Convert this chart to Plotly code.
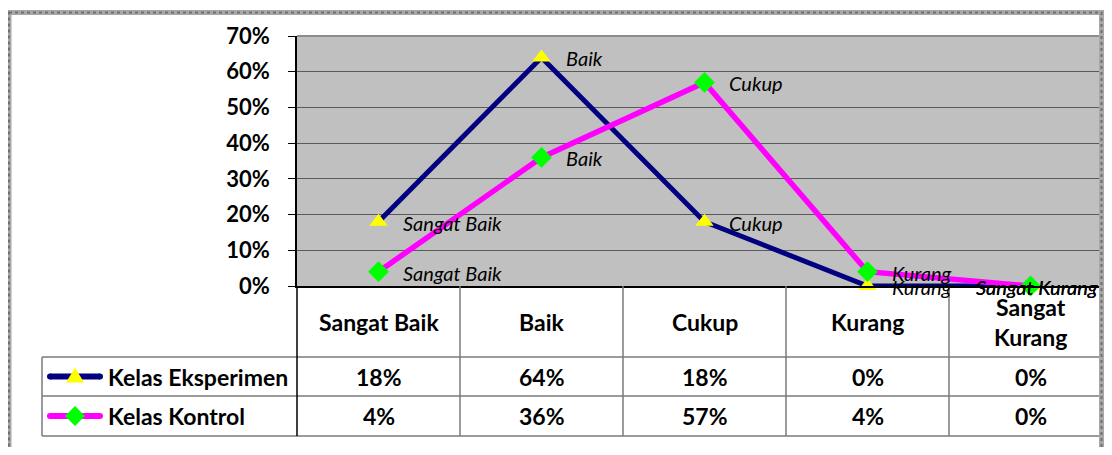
import plotly.graph_objects as go

# ---------------- data ----------------
categories = ["Sangat Baik", "Baik", "Cukup", "Kurang", "Sangat Kurang"]
header_labels = ["Sangat Baik", "Baik", "Cukup", "Kurang", "Sangat<br>Kurang"]
series_names = ["Kelas Eksperimen", "Kelas Kontrol"]
eksperimen = [0.18, 0.64, 0.18, 0.00, 0.00]
kontrol = [0.04, 0.36, 0.57, 0.04, 0.00]
y_ticks = [0.0, 0.1, 0.2, 0.3, 0.4, 0.5, 0.6, 0.7]

# ---------------- geometry (page pixels; the page body adds an 8px margin) ----------------
OFF = 8
VIEW_W, VIEW_H = 1112, 455
COL_W = 163.0                       # pixel width of one category column
PLOT_L, PLOT_T, PLOT_B = 297, 36, 286
PLOT_R = VIEW_W - OFF               # keep the figure inside the window
W, H = VIEW_W - 2 * OFF, VIEW_H - 2 * OFF
L, T = PLOT_L - OFF, PLOT_T - OFF
R = W - (PLOT_R - OFF)
B = H - (PLOT_B - OFF)
PW, PH = PLOT_R - PLOT_L, PLOT_B - PLOT_T
X_MAX = -0.5 + PW / COL_W


def px(x):
    return (x - PLOT_L) / PW


def py(y):
    return (PLOT_B - y) / PH


FONT = "Lato, 'Open Sans', sans-serif"
NAVY = "#000080"
MAGENTA = "#FF00FF"
YELLOW = "#FFFF00"
GREEN = "#00FF00"
TABLE_LINE = "#7a7a7a"

fig = go.Figure()

fig.add_trace(go.Scatter(
    x=categories, y=eksperimen, name=series_names[0], mode="lines+markers",
    line=dict(color=NAVY, width=5),
    marker=dict(symbol="triangle-up", size=16, color=YELLOW, line=dict(width=0)),
    cliponaxis=False, showlegend=False,
))
fig.add_trace(go.Scatter(
    x=categories, y=kontrol, name=series_names[1], mode="lines+markers",
    line=dict(color=MAGENTA, width=5.5),
    marker=dict(symbol="diamond", size=16, color=GREEN, line=dict(width=0)),
    cliponaxis=False, showlegend=False,
))

annotations = []
# point labels
for series in (eksperimen, kontrol):
    for i, (c, v) in enumerate(zip(categories, series)):
        last = i == len(categories) - 1
        annotations.append(dict(
            x=c, y=v, xref="x", yref="y", text=c, showarrow=False,
            xanchor="center" if last else "left",
            xshift=6 if last else 22,
            yshift=-1,
            font=dict(family=FONT, size=20, color="#000000", style="italic"),
        ))

# table header row
for c, lab in zip(categories, header_labels):
    annotations.append(dict(
        x=c, y=py(321.5), xref="x", yref="paper", text=lab, showarrow=False,
        xanchor="center", yanchor="middle",
        font=dict(family=FONT, size=23, color="#000000", weight="bold"),
    ))

# table value rows
row_centers = [376.5, 416]
for name, series, yc in zip(series_names, (eksperimen, kontrol), row_centers):
    for c, v in zip(categories, series):
        annotations.append(dict(
            x=c, y=py(yc), xref="x", yref="paper", text=f"{round(v * 100)}%",
            showarrow=False, xanchor="center", yanchor="middle",
            font=dict(family=FONT, size=23, color="#000000", weight="bold"),
        ))
    # legend text
    annotations.append(dict(
        x=px(106), y=py(yc), xref="paper", yref="paper",
        text=name, showarrow=False,
        xanchor="left", yanchor="middle",
        font=dict(family=FONT, size=23, color="#000000", weight="bold"),
    ))

shapes = []
# top border of plot area
shapes.append(dict(type="line", xref="paper", yref="paper",
                   x0=0, x1=1, y0=1, y1=1,
                   line=dict(color="#8c8c8c", width=2)))

# table horizontal lines
for yline in (357, 396, 436):
    shapes.append(dict(type="line", xref="paper", yref="paper",
                       x0=px(42), x1=1, y0=py(yline), y1=py(yline),
                       line=dict(color=TABLE_LINE, width=1.5)))
# table vertical lines (column boundaries)
bounds = [i - 0.5 for i in range(len(categories) + 1)]
for b in bounds[1:-1]:
    shapes.append(dict(type="line", xref="x", yref="paper",
                       x0=b, x1=b, y0=0, y1=py(436),
                       line=dict(color=TABLE_LINE, width=1.5)))
shapes.append(dict(type="line", xref="paper", yref="paper",
                   x0=0, x1=0, y0=0, y1=py(436),
                   line=dict(color="#000000", width=1.5)))
shapes.append(dict(type="line", xref="paper", yref="paper",
                   x0=px(42), x1=px(42), y0=py(357), y1=py(436),
                   line=dict(color=TABLE_LINE, width=1.5)))

# frame around chart (drawn above so its right edge shows over the plot area)
for col, wd, dash in (("#a8a8a8", 5, "solid"), ("#707070", 2, "dot")):
    shapes.append(dict(type="rect", xref="paper", yref="paper",
                       x0=px(9), x1=px(PLOT_R - 2.5), y0=py(12.5), y1=py(475),
                       line=dict(color=col, width=wd, dash=dash), layer="above"))

# legend keys
keys = [(NAVY, YELLOW, "M -9 -6 L 9 -6 L 0 9 Z"),
        (MAGENTA, GREEN, "M -10 0 L 0 10 L 10 0 L 0 -10 Z")]
for (lc, mc, path), yc in zip(keys, row_centers):
    shapes.append(dict(type="line", xref="paper", yref="paper",
                       x0=px(50), x1=px(100), y0=py(yc), y1=py(yc),
                       line=dict(color=lc, width=6)))
    for xe in (50, 100):
        shapes.append(dict(type="circle", xref="paper", yref="paper",
                           xsizemode="pixel", ysizemode="pixel",
                           xanchor=px(xe), yanchor=py(yc),
                           x0=-3, x1=3, y0=-3, y1=3,
                           fillcolor=lc, line=dict(width=0)))
    shapes.append(dict(type="path", xref="paper", yref="paper",
                       xsizemode="pixel", ysizemode="pixel",
                       xanchor=px(75), yanchor=py(yc), path=path,
                       fillcolor=mc, line=dict(width=0)))

fig.update_layout(
    width=W, height=H,
    margin=dict(l=L, r=R, t=T, b=B, pad=0),
    paper_bgcolor="#FFFFFF",
    plot_bgcolor="#C0C0C0",
    font=dict(family=FONT, color="#000000"),
    annotations=annotations,
    shapes=shapes,
    showlegend=False,
    xaxis=dict(
        type="category", categoryorder="array", categoryarray=categories,
        range=[-0.5, X_MAX],
        showticklabels=False, ticks="", showgrid=False, zeroline=False,
        showline=True, linecolor="#000000", linewidth=1.5,
    ),
    yaxis=dict(
        range=[0, 0.7], tickvals=y_ticks, tickformat=".0%",
        showgrid=True, gridcolor="#5a5a5a", gridwidth=1,
        zeroline=False, showline=True, linecolor="#000000", linewidth=1.5,
        ticks="outside", ticklen=7, tickcolor="#000000", tickwidth=1,
        ticklabelstandoff=14,
        tickfont=dict(family=FONT, size=22, color="#000000", weight="bold"),
    ),
)

fig.write_html("out.html")
